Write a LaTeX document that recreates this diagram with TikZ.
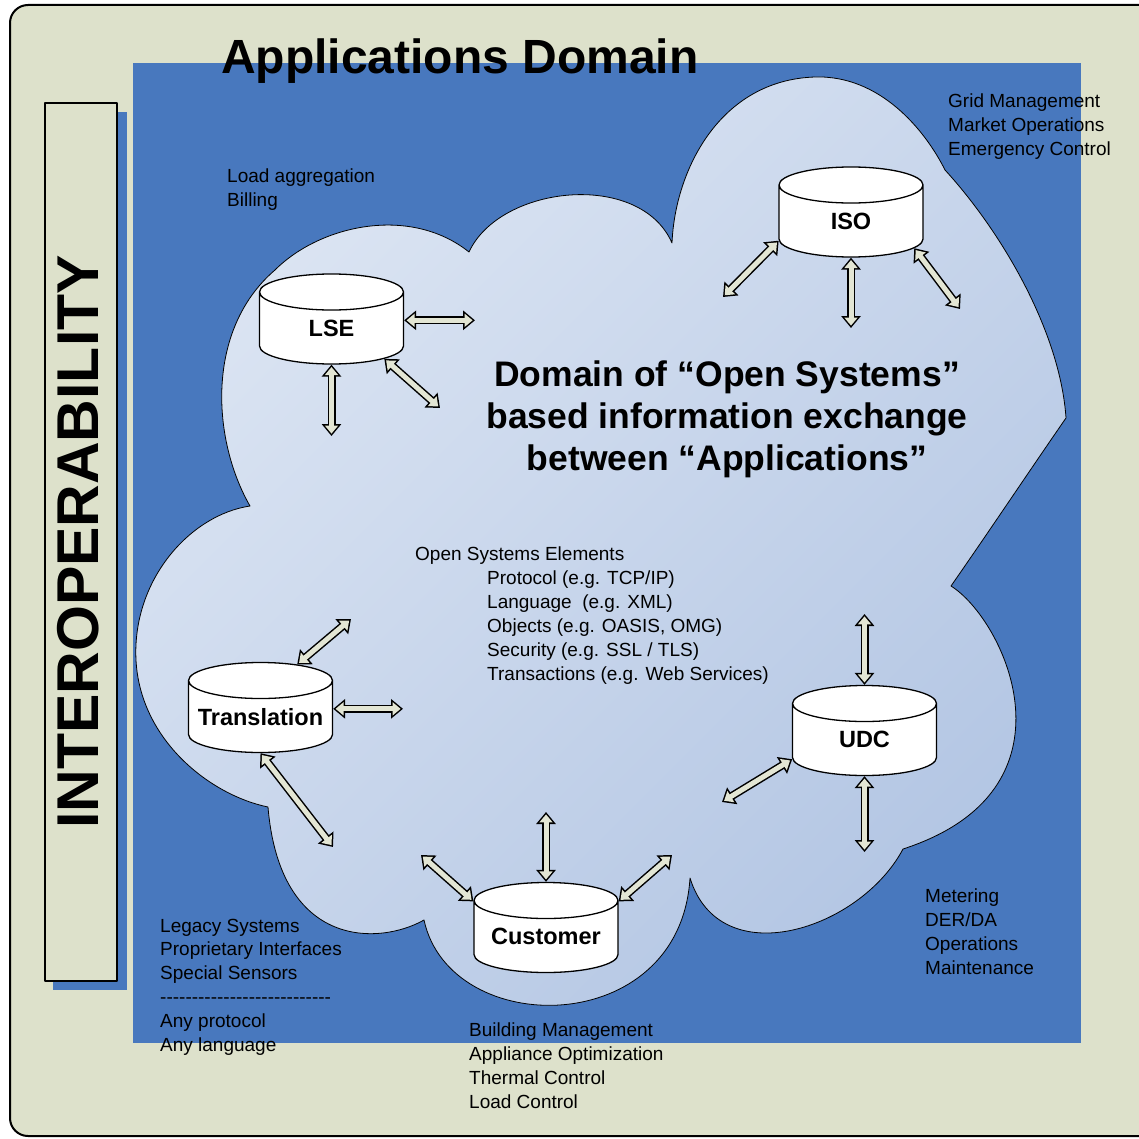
\documentclass[tikz,border=0pt]{standalone}
\usepackage{fontspec}
\setmainfont{Liberation Sans}
\usetikzlibrary{arrows.meta}
\usetikzlibrary{shapes.geometric}

\definecolor{framefill}{HTML}{DDE1CB}
\definecolor{domainblue}{HTML}{4878BE}
\definecolor{cloudlight}{HTML}{DCE5F3}
\definecolor{clouddark}{HTML}{B2C5E3}
\definecolor{arrowfill}{HTML}{E3E6D4}

\tikzset{
  dbase/.style={cylinder, shape border rotate=90, aspect=0.277, draw=black, fill=white,
    line width=1.3, minimum width=144, minimum height=90, inner sep=0,
    text width=130, align=center, anchor=shape center,
    font=\fontsize{23.5}{28}\selectfont\bfseries},
  infotext/.style={anchor=base west, align=left, inner sep=0,
    font=\fontsize{19}{24}\selectfont},
  arrowout/.style={line width=8, draw=black,
    {Triangle[length=12pt,width=19pt]}-{Triangle[length=12pt,width=19pt]}},
  arrowin/.style={line width=5, draw=arrowfill, shorten <=2.4pt, shorten >=2.4pt,
    {Triangle[length=8pt,width=12.8pt]}-{Triangle[length=8pt,width=12.8pt]}}
}
\newcommand\dblarrow[2]{\draw[arrowout] (#1) -- (#2); \draw[arrowin] (#1) -- (#2);}
\newcommand\dashrow{-{}-{}-{}-{}-{}-{}-{}-{}-{}-{}-{}-{}-{}-{}-{}-{}-{}-{}-{}-{}-{}-{}-{}-{}-{}-{}-{}}

\begin{document}
\begin{tikzpicture}[x=1pt, y=-1pt, line join=round]
\useasboundingbox (0,0) rectangle (1138,1139);

\draw[rounded corners=18, line width=2, fill=framefill] (10,5) rectangle (1170,1136);
\fill[domainblue] (133,63) rectangle (1081,1043);

\fill[domainblue] (53,112) rectangle (127,990);
\draw[line width=2, fill=framefill] (45,103) rectangle (117,981);
\node[rotate=90, inner sep=0, font=\fontsize{59}{60}\selectfont\bfseries] (interop) at (78,542) {INTEROPERABILITY};

\node[anchor=base west, inner sep=0, font=\fontsize{48}{50}\selectfont\bfseries] (title) at (221,74) {Applications Domain};

\shadedraw[draw=black, line width=0.8, top color=cloudlight, bottom color=clouddark, shading angle=45]
  (250,506) .. controls (212,440) and (205,330) .. (275,270)
  .. controls (320,225) and (410,205) .. (469,252)
  .. controls (500,185) and (640,170) .. (672,243)
  .. controls (675,170) and (720,80) .. (815,77)
  .. controls (880,75) and (925,130) .. (945,170)
  .. controls (1000,230) and (1060,330) .. (1066,418)
  .. controls (1030,470) and (990,530) .. (951,586)
  .. controls (1005,620) and (1085,790) .. (903,849)
  .. controls (860,930) and (720,975) .. (690,878)
  .. controls (680,1040) and (450,1040) .. (424,920)
  .. controls (380,945) and (280,950) .. (268,807)
  .. controls (210,795) and (140,740) .. (136,660)
  .. controls (132,580) and (190,515) .. (250,506) -- cycle;

\node[dbase] (lse) at (331.5,319) {LSE};
\node[dbase] (iso) at (851,212) {ISO};
\node[dbase] (trans) at (260.5,707.5) {Translation};
\node[dbase] (udc) at (864.5,730.5) {UDC};
\node[dbase] (cust) at (546,927.5) {Customer};

\coordinate (lse0) at ([yshift=8pt]lse.east);
\coordinate (tr0) at ([yshift=8pt]trans.east);
\coordinate (lse1) at (475,319);
\coordinate (lse2) at (331.5,436);
\coordinate (lse3) at (440,408);
\coordinate (iso1) at (723,297);
\coordinate (iso2) at (851,328);
\coordinate (iso3) at (960,309);
\coordinate (tr1) at (351,619);
\coordinate (tr2) at (403,707.5);
\coordinate (tr3) at (333,847);
\coordinate (udc1) at (864.5,614);
\coordinate (udc2) at (722,802);
\coordinate (udc3) at (864.5,852);
\coordinate (cust1) at (546,812);
\coordinate (cust2) at (421,855);
\coordinate (cust3) at (672,855);

\dblarrow{lse0}{lse0 -| lse1}
\dblarrow{lse.270}{lse2}
\dblarrow{lse.-30}{lse3}
\dblarrow{iso.195}{iso1}
\dblarrow{iso.270}{iso2}
\dblarrow{iso.-23.6}{iso3}
\dblarrow{trans.55}{tr1}
\dblarrow{tr0}{tr0 -| tr2}
\dblarrow{trans.270}{tr3}
\dblarrow{udc.90}{udc1}
\dblarrow{udc.195}{udc2}
\dblarrow{udc.270}{udc3}
\dblarrow{cust.90}{cust1}
\dblarrow{cust.154}{cust2}
\dblarrow{cust.26}{cust3}

\node[anchor=base, align=center, inner sep=0, font=\fontsize{35.5}{42}\selectfont\bfseries] (domain) at (727,470)
  {Domain of “Open Systems”\\based information exchange\\between “Applications”};

\node[infotext] (lsetext) at (227,207) {Load aggregation\\Billing};
\node[infotext] (isotext) at (948,156) {Grid Management\\Market Operations\\Emergency Control};
\node[infotext] (udctext) at (925,974) {Metering\\DER/DA\\Operations\\Maintenance};
\node[infotext, font=\fontsize{19}{23.8}\selectfont] (transtext) at (160,1051)
  {Legacy Systems\\Proprietary Interfaces\\Special Sensors\\\dashrow\\Any protocol\\Any language};
\node[infotext] (custtext) at (469,1108) {Building Management\\Appliance Optimization\\Thermal Control\\Load Control};
\node[infotext] (osehead) at (415,560) {Open Systems Elements};
\node[infotext] (oselist) at (487,680) {Protocol (e.g. TCP/IP)\\Language\ \ (e.g. XML)\\Objects (e.g. OASIS, OMG)\\Security (e.g. SSL / TLS)\\Transactions (e.g. Web Services)};

\end{tikzpicture}
\end{document}
